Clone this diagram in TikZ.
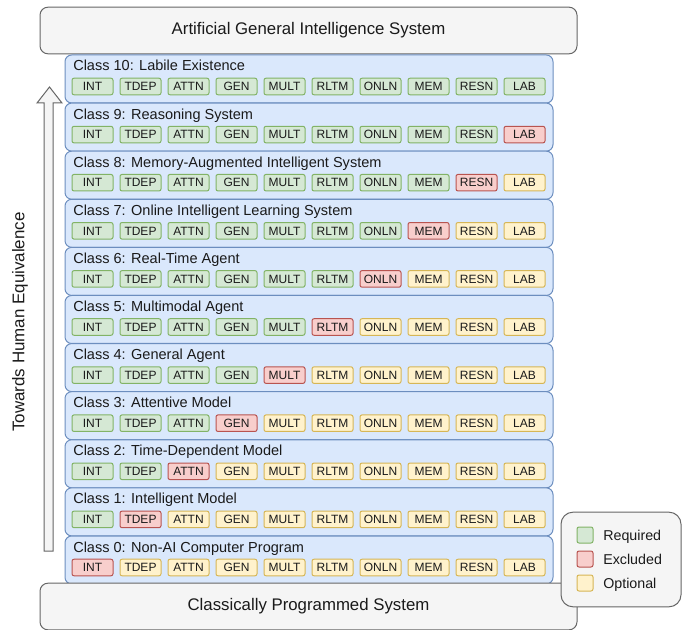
\documentclass[tikz,border=0pt]{standalone}
\usepackage{fontspec}
\setmainfont{Liberation Sans}
\usetikzlibrary{calc}
\definecolor{greyfill}{HTML}{F5F5F5}
\definecolor{greyline}{HTML}{666666}
\definecolor{bluefill}{HTML}{DAE8FC}
\definecolor{blueline}{HTML}{6C8EBF}
\definecolor{reqfill}{HTML}{D5E8D4}
\definecolor{reqline}{HTML}{82B366}
\definecolor{excfill}{HTML}{F8CECC}
\definecolor{excline}{HTML}{B85450}
\definecolor{optfill}{HTML}{FFF2CC}
\definecolor{optline}{HTML}{D6B656}
\definecolor{txt}{HTML}{1A1A1A}

\tikzset{
  sysbox/.style={draw=greyline,fill=greyfill,rounded corners=6pt,line width=0.75pt,
    minimum width=402.75pt,minimum height=35pt,inner sep=0pt,font=\fontsize{12.6}{14}\selectfont,text=txt},
  classbox/.style={draw=blueline,fill=bluefill,rounded corners=5pt,line width=0.75pt,
    minimum width=366pt,minimum height=36pt,inner sep=0pt},
  classlabel/.style={anchor=base west,inner sep=0pt,font=\fontsize{10.9}{12}\selectfont,text=txt},
  tag/.style={draw,rounded corners=1.5pt,line width=0.75pt,minimum width=30.75pt,
    minimum height=12.4pt,inner sep=0pt,text height=6.4pt,text depth=0pt,
    font=\fontsize{9}{10}\selectfont,text=txt},
  req/.style={tag,draw=reqline,fill=reqfill},
  exc/.style={tag,draw=excline,fill=excfill},
  opt/.style={tag,draw=optline,fill=optfill},
  legkey/.style={draw=#1line,fill=#1fill,rounded corners=1.5pt,line width=0.75pt,
    minimum size=12pt,inner sep=0pt},
  legtext/.style={anchor=base west,inner sep=0pt,font=\fontsize{10.7}{12}\selectfont,text=txt},
}

\begin{document}
\begin{tikzpicture}[x=0.75pt,y=-0.75pt]
\useasboundingbox (0,0) rectangle (688,630);

% systems at the two ends
\node[sysbox] (agi) at (308.5,30.5) {Artificial General Intelligence System};

% the eleven classes
\foreach \k/\name in {10/Labile Existence,9/Reasoning System,8/Memory-Augmented Intelligent System,
  7/Online Intelligent Learning System,6/Real-Time Agent,5/Multimodal Agent,4/General Agent,
  3/Attentive Model,2/Time-Dependent Model,1/Intelligent Model,0/Non-AI Computer Program}{
  \pgfmathsetmacro{\top}{55+(10-\k)*48.1}
  \node[classbox] (c\k) at (309,\top+24) {};
  \node[classlabel] (c\k-label) at (73,\top+16) {Class \k: \name};
  \foreach \tg [count=\i from 0] in {INT,TDEP,ATTN,GEN,MULT,RLTM,ONLN,MEM,RESN,LAB}{
    \ifnum\i<\k
      \def\kind{req}
    \else\ifnum\i=\k
      \def\kind{exc}
    \else
      \def\kind{opt}
    \fi\fi
    \node[\kind] (c\k-\tg) at (92.5+48*\i,\top+31.5) {\tg};
  }
}

\node[sysbox] (cps) at (308.5,606.5) {Classically Programmed System};

% direction arrow
\draw[draw=greyline,fill=greyfill,line width=0.75pt]
  (44,551) -- (44,103) -- (37,103) -- (49.5,87) -- (62,103) -- (53,103) -- (53,551) -- cycle;
\node[rotate=90,inner sep=0pt,font=\fontsize{12.7}{14}\selectfont,text=txt] (toward) at (20,322) {Towards Human Equivalence};

% legend
\node[draw=greyline,fill=greyfill,rounded corners=9pt,line width=0.75pt,
  minimum width=90pt,minimum height=71pt,inner sep=0pt] (legend) at (621,559.5) {};
\node[legkey=req] (k-req) at (585,535) {};
\node[legkey=exc] (k-exc) at (585,559) {};
\node[legkey=opt] (k-opt) at (585,583) {};
\node[legtext] (l-req) at (603,540) {Required};
\node[legtext] (l-exc) at (603,564) {Excluded};
\node[legtext] (l-opt) at (603,588) {Optional};
\end{tikzpicture}
\end{document}
